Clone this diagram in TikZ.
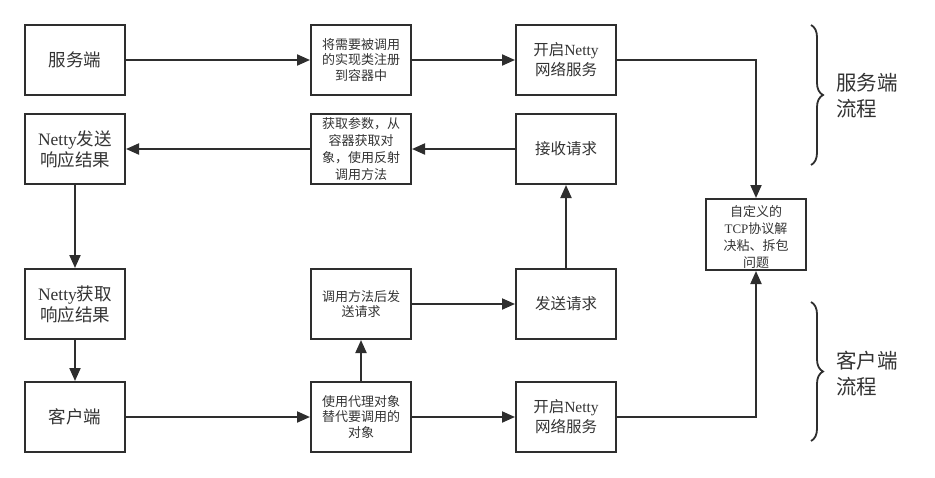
\documentclass[tikz,border=0pt]{standalone}
\usepackage{fontspec}
\setmainfont{Liberation Serif}
\newfontfamily\cjk{Noto Sans CJK SC}
\newfontfamily\lat{Liberation Serif}
\usetikzlibrary{arrows.meta,decorations.pathreplacing}
\definecolor{ln}{HTML}{2E2E2E}
\definecolor{tx}{HTML}{333333}
\tikzset{
  box/.style={draw=ln,line width=2pt,minimum width=100pt,minimum height=70pt,inner sep=0pt,align=center,text=tx},
  bigtxt/.style={font=\cjk\fontsize{17.5}{21}\selectfont},
  midtxt/.style={font=\cjk\fontsize{15.5}{20}\selectfont},
  smalltxt/.style={font=\cjk\fontsize{13}{15.5}\selectfont},
  conn/.style={draw=ln,line width=2pt,-{Triangle[length=13pt,width=11pt]}},
  bracestyle/.style={draw=ln,line width=1.8pt,decorate,decoration={brace,amplitude=12pt}},
  sidetxt/.style={font=\cjk\fontsize{20.5}{26}\selectfont,align=left,text=tx,inner sep=0pt}
}
\begin{document}
\begin{tikzpicture}[x=1pt,y=-1pt]
\useasboundingbox (0,0) rectangle (935,477);
% row 1
\node[box,bigtxt] (server) at (75,60) {服务端};
\node[box,smalltxt] (reg) at (361,60) {将需要被调用\\的实现类注册\\到容器中};
\node[box,midtxt] (snetty) at (566,60) {开启{\lat Netty}\\网络服务};
% row 2
\node[box,bigtxt] (send) at (75,149) {{\lat Netty}发送\\响应结果};
\node[box,smalltxt,font=\cjk\fontsize{13}{17}\selectfont] (invoke) at (361,149) {获取参数，从\\容器获取对\\象，使用反射\\调用方法};
\node[box,midtxt] (recv) at (566,149) {接收请求};
% TCP
\node[draw=ln,line width=2pt,minimum width=100pt,minimum height=71pt,inner sep=0pt,text=tx] (tcp) at (756,234.5) {};
\node[align=center,text=tx,inner sep=0pt,font=\cjk\fontsize{13}{17}\selectfont] (tcptext) at (756,237) {自定义的\\{\lat TCP}协议解\\决粘、拆包\\问题};
% row 3
\node[box,bigtxt] (get) at (75,304) {{\lat Netty}获取\\响应结果};
\node[box,smalltxt] (call) at (361,304) {调用方法后发\\送请求};
\node[box,midtxt] (req) at (566,304) {发送请求};
% row 4
\node[box,bigtxt] (client) at (75,417) {客户端};
\node[box,smalltxt] (proxy) at (361,417) {使用代理对象\\替代要调用的\\对象};
\node[box,midtxt] (cnetty) at (566,417) {开启{\lat Netty}\\网络服务};
% connectors
\draw[conn] (server) -- (reg);
\draw[conn] (reg) -- (snetty);
\draw[conn] (snetty.east) -| (tcp.north);
\draw[conn] (recv) -- (invoke);
\draw[conn] (invoke) -- (send);
\draw[conn] (send) -- (get);
\draw[conn] (get) -- (client);
\draw[conn] (client) -- (proxy);
\draw[conn] (proxy) -- (cnetty);
\draw[conn] (proxy) -- (call);
\draw[conn] (call) -- (req);
\draw[conn] (req) -- (recv);
\draw[conn] (cnetty.east) -| (tcp.south);
% braces
\coordinate (b1t) at (811,25);
\coordinate (b1b) at (811,165);
\coordinate (b2t) at (811,302);
\coordinate (b2b) at (811,441);
\draw[bracestyle] (b1t) -- (b1b);
\draw[bracestyle] (b2t) -- (b2b);
\node[sidetxt,anchor=west] (slabel) at (836,96) {服务端\\流程};
\node[sidetxt,anchor=west] (clabel) at (836,374) {客户端\\流程};
\end{tikzpicture}
\end{document}
